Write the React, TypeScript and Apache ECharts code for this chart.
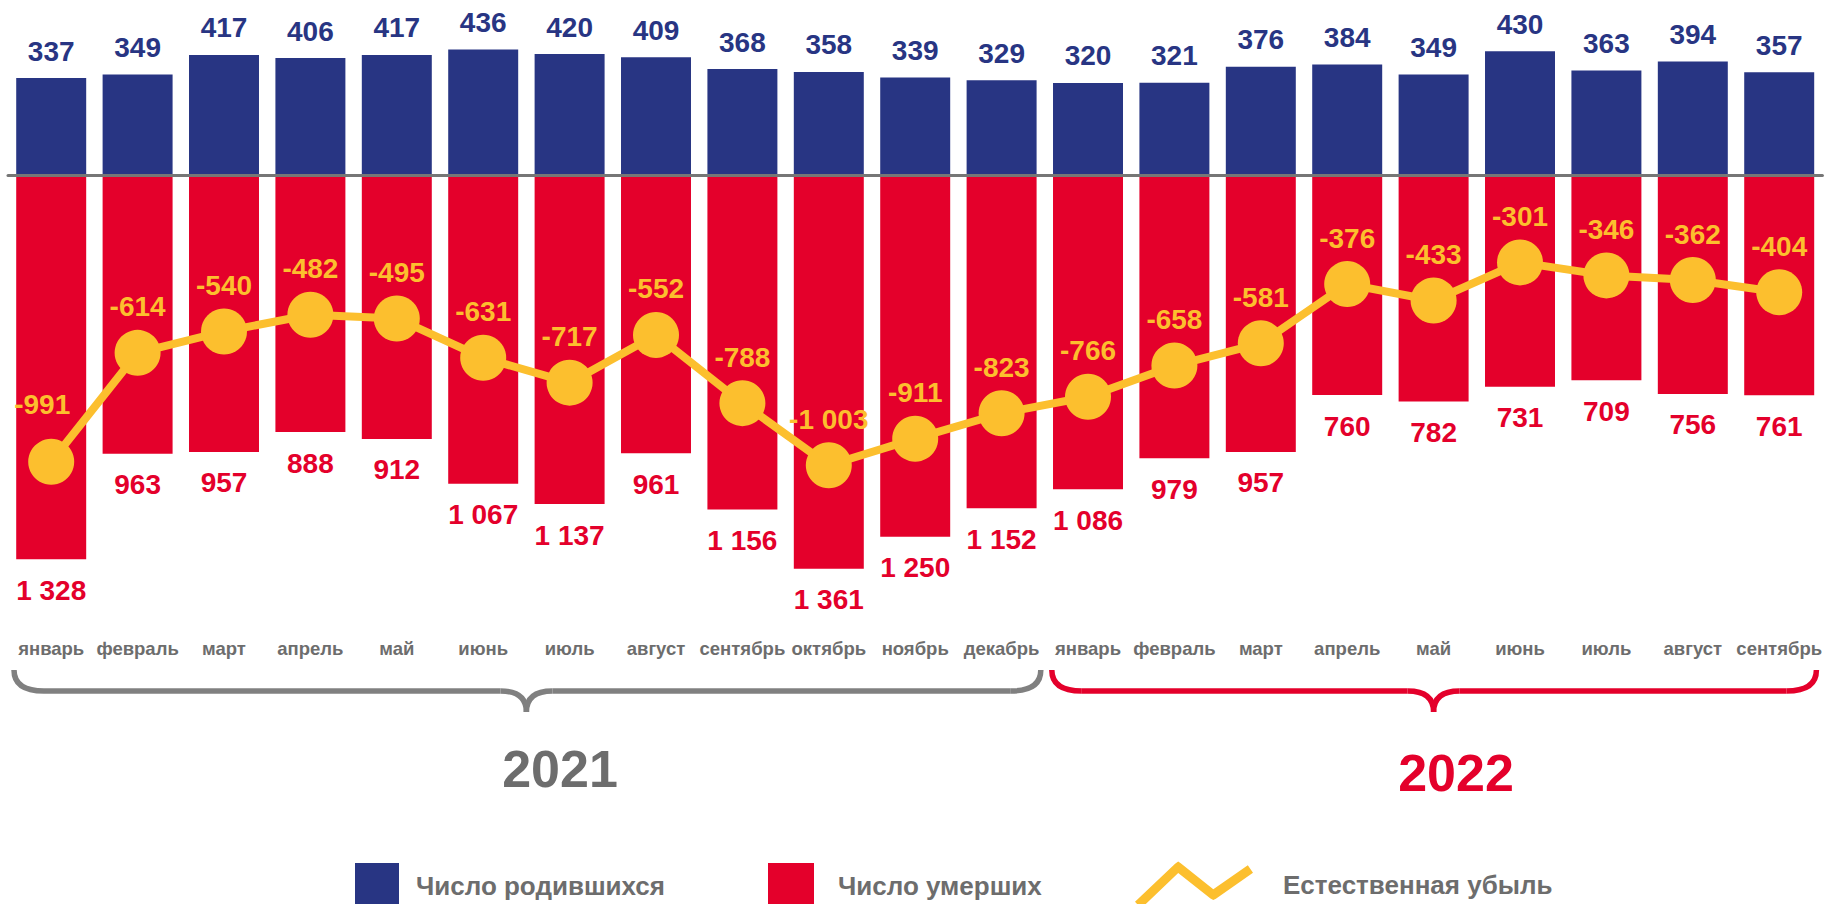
import React, { useEffect, useRef } from 'react';
import * as echarts from 'echarts';

const months2021 = ['январь', 'февраль', 'март', 'апрель', 'май', 'июнь', 'июль', 'август', 'сентябрь', 'октябрь', 'ноябрь', 'декабрь'];
const months2022 = ['январь', 'февраль', 'март', 'апрель', 'май', 'июнь', 'июль', 'август', 'сентябрь'];
const categories = [...months2021, ...months2022];

const births = [337, 349, 417, 406, 417, 436, 420, 409, 368, 358, 339, 329, 320, 321, 376, 384, 349, 430, 363, 394, 357];
const deaths = [1328, 963, 957, 888, 912, 1067, 1137, 961, 1156, 1361, 1250, 1152, 1086, 979, 957, 760, 782, 731, 709, 756, 761];
const naturalDecrease = [-991, -614, -540, -482, -495, -631, -717, -552, -788, -1003, -911, -823, -766, -658, -581, -376, -433, -301, -346, -362, -404];

const yearLabels = ['2021', '2022'];
const seriesNames = ['Число родившихся', 'Число умерших', 'Естественная убыль'];

const BLUE = '#283583';
const RED = '#E4002B';
const YELLOW = '#FCBF2E';
const GRAY_TEXT = '#6D6D6D';
const GRAY_BRACE = '#808080';
const FONT = "'Liberation Sans', Arial, Helvetica, sans-serif";

const ZIGZAG =
  'path://M-3.1,36.74 L36.9,-1.26 L40,-3.5 L42.81,-1.51 L75,24.2 L109.41,0.32 L114.59,7.68 L77.59,33.68 L75,35 L72.19,33.51 L40,8 L3.1,43.26 Z';

const fmt = (n: number) => {
  const s = String(Math.abs(Math.round(n))).replace(/\B(?=(\d{3})+(?!\d))/g, ' ');
  return n < 0 ? '-' + s : s;
};

const labelFont = { fontFamily: FONT, fontWeight: 'bold' as const, fontSize: 28 };

function brace(x0: number, x1: number, xc: number, color: string) {
  const yTop = 670;
  const yLine = 691;
  const yTip = 712;
  const rx = 30;
  const rc = 26;
  const style = { stroke: color, lineWidth: 5.5, fill: 'none' };
  return [
    { type: 'bezierCurve', shape: { x1: x0, y1: yTop, x2: x0 + rx, y2: yLine, cpx1: x0, cpy1: yLine }, style },
    { type: 'line', shape: { x1: x0 + rx, y1: yLine, x2: xc - rc, y2: yLine }, style },
    { type: 'bezierCurve', shape: { x1: xc - rc, y1: yLine, x2: xc, y2: yTip, cpx1: xc, cpy1: yLine }, style },
    { type: 'bezierCurve', shape: { x1: xc, y1: yTip, x2: xc + rc, y2: yLine, cpx1: xc, cpy1: yLine }, style },
    { type: 'line', shape: { x1: xc + rc, y1: yLine, x2: x1 - rx, y2: yLine }, style },
    { type: 'bezierCurve', shape: { x1: x1 - rx, y1: yLine, x2: x1, y2: yTop, cpx1: x1, cpy1: yLine }, style },
  ];
}

export default function App() {
  const ref = useRef<HTMLDivElement>(null);

  useEffect(() => {
    if (!ref.current) return;
    const chart = echarts.init(ref.current, undefined, { renderer: 'svg' });

    const legendText = {
      color: GRAY_TEXT,
      fontFamily: FONT,
      fontWeight: 'bold' as const,
      fontSize: 26,
    };

    chart.setOption({
      animation: false,
      backgroundColor: '#ffffff',
      grid: { left: 8, right: 0, top: 2, height: 628.6, containLabel: false },
      xAxis: [
        {
          type: 'category',
          data: categories,
          position: 'top',
          z: 5,
          axisLine: { show: true, onZero: true, lineStyle: { color: '#767676', width: 3 } },
          axisTick: { show: false },
          axisLabel: { show: false },
          splitLine: { show: false },
        },
        {
          type: 'category',
          data: categories,
          position: 'bottom',
          axisLine: { show: false },
          axisTick: { show: false },
          splitLine: { show: false },
          axisLabel: {
            interval: 0,
            margin: 8,
            color: GRAY_TEXT,
            fontFamily: FONT,
            fontWeight: 'bold',
            fontSize: 18.5,
          },
        },
      ],
      yAxis: {
        type: 'value',
        min: -1575,
        max: 600,
        show: false,
        splitLine: { show: false },
      },
      legend: [
        {
          data: [seriesNames[0]],
          left: 355,
          top: 863,
          padding: 0,
          itemWidth: 44,
          itemHeight: 46,
          icon: 'rect',
          selectedMode: false,
          itemStyle: { borderWidth: 0 },
          textStyle: { ...legendText, padding: [0, 0, 0, 12] },
        },
        {
          data: [seriesNames[1]],
          left: 768,
          top: 863,
          padding: 0,
          itemWidth: 46,
          itemHeight: 46,
          icon: 'rect',
          selectedMode: false,
          itemStyle: { borderWidth: 0 },
          textStyle: { ...legendText, padding: [0, 0, 0, 19] },
        },
        {
          data: [seriesNames[2]],
          left: 1135,
          top: 861.5,
          padding: 0,
          itemWidth: 118,
          itemHeight: 47,
          icon: ZIGZAG,
          selectedMode: false,
          itemStyle: { borderWidth: 0 },
          textStyle: { ...legendText, padding: [0, 0, 0, 25] },
        },
      ],
      series: [
        {
          name: seriesNames[0],
          type: 'bar',
          xAxisIndex: 0,
          data: births,
          barCategoryGap: '19%',
          barGap: '-100%',
          itemStyle: { color: BLUE },
          label: {
            show: true,
            position: 'top',
            distance: 13,
            color: BLUE,
            ...labelFont,
            formatter: (p: any) => fmt(p.value),
          },
        },
        {
          name: seriesNames[1],
          type: 'bar',
          xAxisIndex: 0,
          data: deaths.map((v) => -v),
          barCategoryGap: '19%',
          barGap: '-100%',
          itemStyle: { color: RED },
          label: {
            show: true,
            position: 'bottom',
            distance: 17,
            color: RED,
            ...labelFont,
            formatter: (p: any) => fmt(Math.abs(p.value)),
          },
        },
        {
          name: seriesNames[2],
          type: 'line',
          xAxisIndex: 0,
          z: 4,
          data: naturalDecrease.map((v, i) =>
            i === 0 ? { value: v, label: { offset: [-9, -11] } } : v
          ),
          symbol: 'circle',
          symbolSize: 46,
          lineStyle: { color: YELLOW, width: 8 },
          itemStyle: { color: YELLOW },
          label: {
            show: true,
            position: 'top',
            distance: 9,
            color: YELLOW,
            ...labelFont,
            formatter: (p: any) => fmt(p.value),
          },
        },
      ],
    });

    const px = (i: number) => chart.convertToPixel({ xAxisIndex: 0 }, i) as unknown as number;
    const band = px(1) - px(0);
    const g0 = px(0) - band / 2 + 6;
    const g1 = px(months2021.length - 1) + band / 2 - 4;
    const r0 = px(months2021.length) - band / 2 + 7;
    const r1 = px(categories.length - 1) + band / 2 - 6;
    const gc = (px(0) + px(months2021.length - 1)) / 2;
    const rc = (px(months2021.length) + px(categories.length - 1)) / 2;

    chart.setOption({
      graphic: [
        ...brace(g0, g1, gc, GRAY_BRACE),
        ...brace(r0, r1, rc, RED),
        {
          type: 'text',
          x: 560,
          y: 769,
          style: {
            text: yearLabels[0],
            fill: GRAY_TEXT,
            font: `bold 52px ${FONT}`,
            align: 'center',
            verticalAlign: 'middle',
          },
        },
        {
          type: 'text',
          x: 1456,
          y: 773,
          style: {
            text: yearLabels[1],
            fill: RED,
            font: `bold 52px ${FONT}`,
            align: 'center',
            verticalAlign: 'middle',
          },
        },
      ],
    });

    return () => chart.dispose();
  }, []);

  return (
    <div
      ref={ref}
      style={{ position: 'absolute', left: 0, top: 0, width: 1825, height: 904 }}
    />
  );
}
